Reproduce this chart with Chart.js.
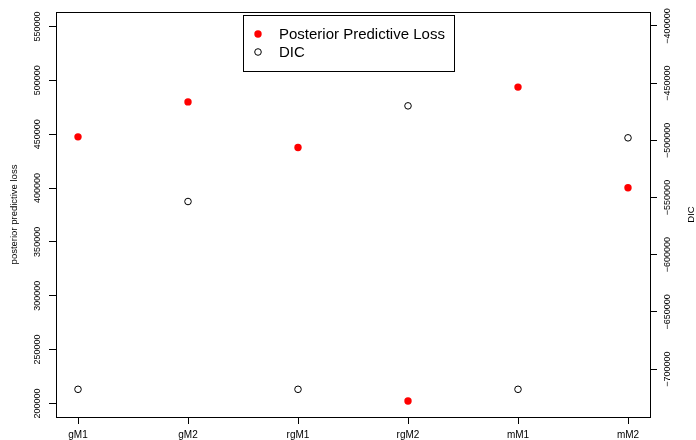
<!DOCTYPE html>
<html>
<head>
<meta charset="utf-8">
<script src="https://cdn.jsdelivr.net/npm/chart.js@4/dist/chart.umd.min.js"></script>
<style>
  html, body { margin: 0; padding: 0; background: #fff; }
  #wrap { width: 696px; height: 440px; }
</style>
</head>
<body>
<div id="wrap"><canvas id="myChart" width="696" height="440"></canvas></div>
<script>
const models = ["gM1", "gM2", "rgM1", "rgM2", "mM1", "mM2"];
const pplValues = [447500, 480000, 437600, 202200, 493700, 400300];
const dicValues = [-717750, -553500, -717750, -469840, -717750, -497800];
const pplTicks = [200000, 250000, 300000, 350000, 400000, 450000, 500000, 550000];
const dicTicks = [-700000, -650000, -600000, -550000, -500000, -450000, -400000];

const FONT = "'Liberation Sans', Arial, Helvetica, sans-serif";

// draws the R-style box, rotated tick labels, axis titles and the legend
const rStyle = {
  id: "rStyle",
  afterDraw(chart) {
    const ctx = chart.ctx;
    const area = chart.chartArea;
    ctx.save();
    ctx.strokeStyle = "#000";
    ctx.lineWidth = 1;
    ctx.strokeRect(area.left + 0.5, area.top + 0.5, area.right - area.left, area.bottom - area.top);

    ctx.fillStyle = "#000";
    ctx.font = "9px " + FONT;
    ctx.textAlign = "center";
    ctx.textBaseline = "middle";
    const yScale = chart.scales.y;
    pplTicks.forEach(v => {
      ctx.save();
      ctx.translate(38, yScale.getPixelForValue(v));
      ctx.rotate(-Math.PI / 2);
      ctx.fillText(String(v), 0, 0);
      ctx.restore();
    });
    const y2Scale = chart.scales.y2;
    dicTicks.forEach(v => {
      ctx.save();
      ctx.translate(668, y2Scale.getPixelForValue(v));
      ctx.rotate(-Math.PI / 2);
      ctx.fillText("\u2212" + String(Math.abs(v)), 0, 0);
      ctx.restore();
    });

    const midY = (area.top + area.bottom) / 2;
    ctx.font = "9.5px " + FONT;
    ctx.save();
    ctx.translate(14, midY);
    ctx.rotate(-Math.PI / 2);
    ctx.fillText("posterior predictive loss", 0, 0);
    ctx.restore();
    ctx.save();
    ctx.translate(691, midY);
    ctx.rotate(-Math.PI / 2);
    ctx.fillText("DIC", 0, 0);
    ctx.restore();

    // legend
    ctx.fillStyle = "#fff";
    ctx.fillRect(243.5, 15.5, 211, 56);
    ctx.strokeStyle = "#000";
    ctx.strokeRect(243.5, 15.5, 211, 56);
    const sets = chart.data.datasets;
    ctx.font = "15px " + FONT;
    ctx.textAlign = "left";
    ctx.fillStyle = "#000";
    sets.forEach((ds, i) => {
      const ly = 34 + i * 18;
      ctx.beginPath();
      ctx.arc(258, ly, ds.pointRadius, 0, Math.PI * 2);
      if (ds.pointBorderWidth === 0) {
        ctx.fillStyle = ds.pointBackgroundColor;
        ctx.fill();
      } else {
        ctx.lineWidth = ds.pointBorderWidth;
        ctx.strokeStyle = ds.pointBorderColor;
        ctx.stroke();
      }
      ctx.fillStyle = "#000";
      ctx.fillText(ds.label, 279, ly + 1);
    });
    ctx.restore();
  }
};

const ctx = document.getElementById("myChart");

new Chart(ctx, {
  type: "scatter",
  data: {
    datasets: [
      {
        label: "Posterior Predictive Loss",
        data: pplValues.map((v, i) => ({ x: i + 1, y: v })),
        yAxisID: "y",
        pointRadius: 3.7,
        pointBorderWidth: 0,
        pointBackgroundColor: "#ff0000",
        pointBorderColor: "#ff0000",
      },
      {
        label: "DIC",
        data: dicValues.map((v, i) => ({ x: i + 1, y: v })),
        yAxisID: "y2",
        pointRadius: 3.3,
        pointBorderWidth: 1,
        pointBackgroundColor: "rgba(0,0,0,0)",
        pointBorderColor: "#000",
      },
    ],
  },
  options: {
    responsive: false,
    animation: false,
    events: [],
    layout: { padding: { top: 12, left: 0, right: 0, bottom: 0 } },
    plugins: {
      legend: { display: false },
      tooltip: { enabled: false },
    },
    scales: {
      x: {
        type: "linear",
        min: 0.8,
        max: 6.2,
        afterBuildTicks: (scale) => {
          scale.ticks = models.map((m, i) => ({ value: i + 1 }));
        },
        afterFit: (scale) => { scale.height = 23; },
        ticks: {
          callback: (v) => models[v - 1],
          color: "#000",
          font: { family: FONT, size: 10 },
          padding: 5,
          maxRotation: 0,
          autoSkip: false,
        },
        grid: { drawOnChartArea: false, drawTicks: true, tickLength: 7, color: "#000", lineWidth: 1 },
        border: { display: false },
      },
      y: {
        type: "linear",
        position: "left",
        min: 187370,
        max: 563460,
        afterBuildTicks: (scale) => {
          scale.ticks = pplTicks.map(v => ({ value: v }));
        },
        afterFit: (scale) => { scale.width = 56; },
        ticks: { display: false },
        grid: { drawOnChartArea: false, drawTicks: true, tickLength: 7, color: "#000", lineWidth: 1 },
        border: { display: false },
      },
      y2: {
        type: "linear",
        position: "right",
        min: -741960,
        max: -387760,
        afterBuildTicks: (scale) => {
          scale.ticks = dicTicks.map(v => ({ value: v }));
        },
        afterFit: (scale) => { scale.width = 46; },
        ticks: { display: false },
        grid: { drawOnChartArea: false, drawTicks: true, tickLength: 7, color: "#000", lineWidth: 1 },
        border: { display: false },
      },
    },
  },
  plugins: [rStyle],
});
</script>
</body>
</html>
